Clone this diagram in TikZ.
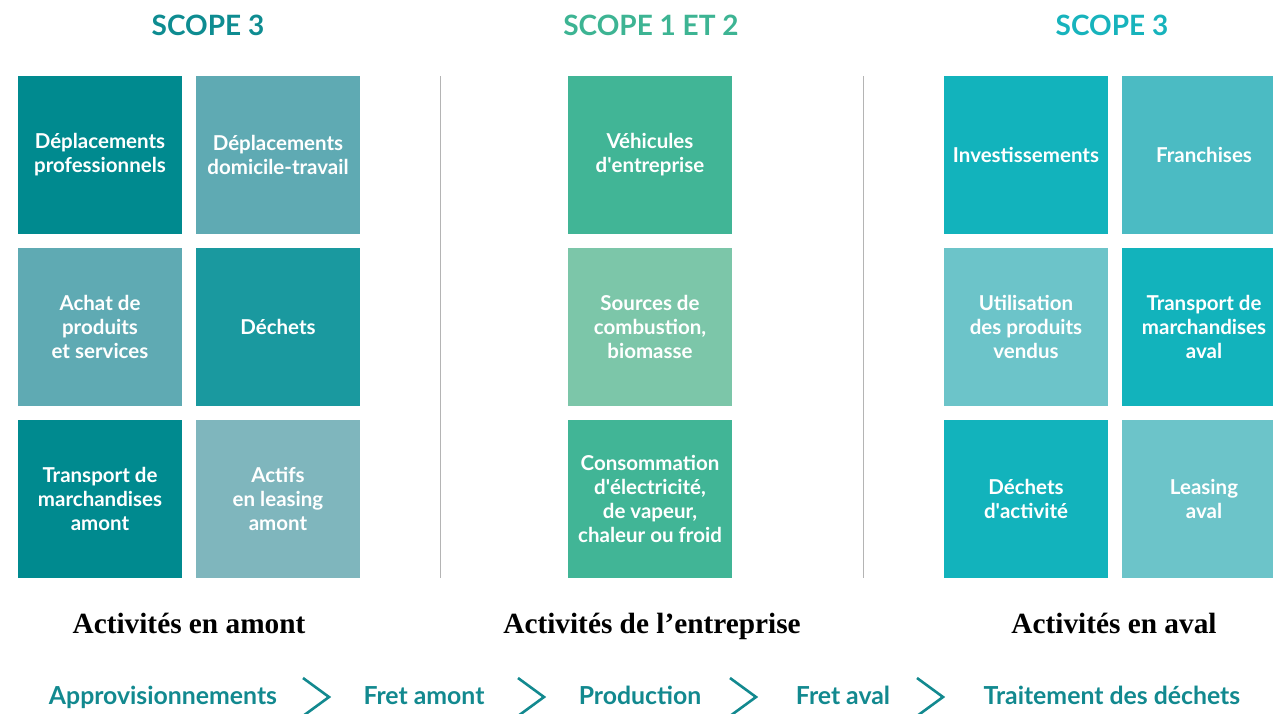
\documentclass[tikz,border=0pt]{standalone}
\usepackage{fontspec}
\usetikzlibrary{positioning}
\newfontfamily\boxfont{Lato}
\newfontfamily\labelfont{Liberation Serif}
\definecolor{tealdark}{HTML}{008A8F}
\definecolor{tealmid}{HTML}{5FAAB3}
\definecolor{tealdeep}{HTML}{1A999F}
\definecolor{teallight}{HTML}{7FB6BD}
\definecolor{greenmid}{HTML}{41B596}
\definecolor{greenlight}{HTML}{7CC6A9}
\definecolor{cyanmid}{HTML}{12B3BC}
\definecolor{cyansoft}{HTML}{4BBBC3}
\definecolor{cyanlight}{HTML}{6CC4C9}
\definecolor{titleteal}{HTML}{0E8C91}
\definecolor{titlegreen}{HTML}{3DB493}
\definecolor{titlecyan}{HTML}{17B3BC}
\definecolor{flowteal}{HTML}{12898F}
\definecolor{sepgray}{HTML}{B4B4B4}
\tikzset{
    scope box/.style = {
        minimum width=164pt,
        minimum height=158pt,
        inner sep=0pt,
        outer sep=0pt,
        text=white,
        align=center,
        font=\boxfont\bfseries\fontsize{20.5}{24}\selectfont,
        },
    scope title/.style = {
        font=\boxfont\bfseries\fontsize{28}{32}\selectfont,
        },
    activity label/.style = {
        anchor=base,
        font=\labelfont\bfseries\fontsize{29.3}{32}\selectfont,
        },
    flow step/.style = {
        anchor=base,
        text=flowteal,
        font=\boxfont\bfseries\fontsize{24.8}{28}\selectfont,
        },
    chevron/.style = {
        draw=flowteal,
        line width=2.6pt,
        },
    sep line/.style = {
        draw=sepgray,
        line width=1pt,
        },
}
\begin{document}
\begin{tikzpicture}[x=1pt, y=-1pt, node distance=14pt]
    \useasboundingbox (0,0) rectangle (1273,713);

    % titles
    \node [scope title, text=titleteal] (t_amont) at (208,25) {SCOPE 3};
    \node [scope title, text=titlegreen] (t_ent) at (651,25) {SCOPE 1 ET 2};
    \node [scope title, text=titlecyan] (t_aval) at (1112,25) {SCOPE 3};

    % upstream boxes
    \node [scope box, fill=tealdark] (dep_pro) at (100,155) {Déplacements\\professionnels};
    \node [scope box, fill=tealmid, right=of dep_pro] (dep_dom) {Déplacements\\domicile-travail};
    \node [scope box, fill=tealmid, below=of dep_pro] (achat) {Achat de\\produits\\et services};
    \node [scope box, fill=tealdeep, right=of achat] (dechets) {Déchets};
    \node [scope box, fill=tealdark, below=of achat] (transp_amont) {Transport de\\marchandises\\amont};
    \node [scope box, fill=teallight, right=of transp_amont] (actifs) {Actifs\\en leasing\\amont};

    % company boxes
    \node [scope box, fill=greenmid] (vehicules) at (650,155) {Véhicules\\d\textquotesingle entreprise};
    \node [scope box, fill=greenlight, below=of vehicules] (combustion) {Sources de\\combustion,\\biomasse};
    \node [scope box, fill=greenmid, below=of combustion] (electricite) {Consommation\\d\textquotesingle électricité,\\de vapeur,\\chaleur ou froid};

    % downstream boxes
    \node [scope box, fill=cyanmid] (invest) at (1026,155) {Investissements};
    \node [scope box, fill=cyansoft, right=of invest] (franchises) {Franchises};
    \node [scope box, fill=cyanlight, below=of invest] (utilisation) {Utilisation\\des produits\\vendus};
    \node [scope box, fill=cyanmid, right=of utilisation] (transp_aval) {Transport de\\marchandises\\aval};
    \node [scope box, fill=cyanmid, below=of utilisation] (dechets_act) {Déchets\\d\textquotesingle activité};
    \node [scope box, fill=cyanlight, right=of dechets_act] (leasing) {Leasing\\aval};

    % separators
    \coordinate (sep1 top) at (440,76);
    \coordinate (sep1 bot) at (440,578);
    \coordinate (sep2 top) at (863,76);
    \coordinate (sep2 bot) at (863,578);
    \draw [sep line] (sep1 top) -- (sep1 bot);
    \draw [sep line] (sep2 top) -- (sep2 bot);

    % activity labels
    \node [activity label] (l_amont) at (189,633) {Activités en amont};
    \node [activity label] (l_ent) at (652,633) {Activités de l’entreprise};
    \node [activity label] (l_aval) at (1114,633) {Activités en aval};

    % flow
    \node [flow step] (appro) at (163,704) {Approvisionnements};
    \node [flow step] (fret_amont) at (424,704) {Fret amont};
    \node [flow step] (production) at (640,704) {Production};
    \node [flow step] (fret_aval) at (843,704) {Fret aval};
    \node [flow step] (traitement) at (1112,704) {Traitement des déchets};

    % chevrons
    \coordinate (chev1) at (316,697);
    \coordinate (chev2) at (531,697);
    \coordinate (chev3) at (743,697);
    \coordinate (chev4) at (930,697);
    \draw [chevron] ([shift={(-13,-19)}]chev1) -- ([shift={(13,0)}]chev1) -- ([shift={(-13,19)}]chev1);
    \draw [chevron] ([shift={(-13,-19)}]chev2) -- ([shift={(13,0)}]chev2) -- ([shift={(-13,19)}]chev2);
    \draw [chevron] ([shift={(-13,-19)}]chev3) -- ([shift={(13,0)}]chev3) -- ([shift={(-13,19)}]chev3);
    \draw [chevron] ([shift={(-13,-19)}]chev4) -- ([shift={(13,0)}]chev4) -- ([shift={(-13,19)}]chev4);
\end{tikzpicture}
\end{document}
